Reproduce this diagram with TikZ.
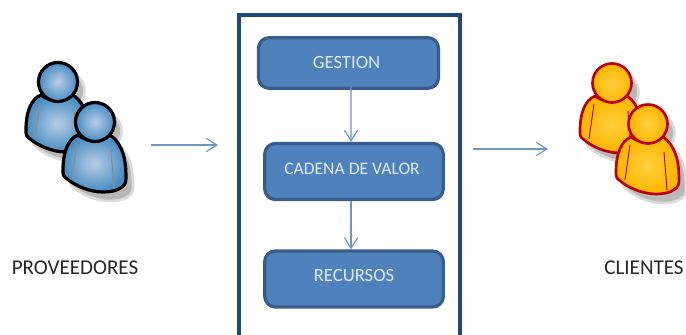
\documentclass[tikz,border=0pt]{standalone}
\usepackage{fontspec}
\setmainfont{Carlito}
\usetikzlibrary{arrows.meta}
\definecolor{marcoazul}{RGB}{31,73,125}
\definecolor{cajaazul}{RGB}{79,129,189}
\definecolor{bordeazul}{RGB}{56,93,138}
\definecolor{flechaazul}{RGB}{112,150,200}
\definecolor{textoclaro}{RGB}{222,232,244}
\definecolor{amarilloclaro}{RGB}{255,208,60}
\definecolor{amarillofuerte}{RGB}{255,182,0}
\tikzset{
  caja/.style={draw=bordeazul,fill=cajaazul,line width=2.4pt,rounded corners=8pt,inner sep=0pt},
  textocaja/.style={text=textoclaro,font=\fontsize{14}{16}\selectfont,inner sep=0pt},
  flecha/.style={draw=flechaazul,line width=0.9pt,-{Straight Barb[length=8pt,width=10pt]}},
  rotulo/.style={text=black!85,font=\fontsize{15.8}{18}\selectfont,inner sep=0pt},
  sombra/.style={fill=black!28,draw=black!14,line width=2pt},
  azul/.style={draw=black,line width=2.4pt,inner color=cajaazul!40!white,outer color=cajaazul!90!cyan,pliegue/.style={draw=black!45,line width=0.9pt}},
  amarillo/.style={draw=red!75!black,line width=2pt,inner color=amarilloclaro,outer color=amarillofuerte,pliegue/.style={draw=red!70!black,line width=0.7pt}},
}
\newcommand{\cuerpo}{(-17,13) .. controls (-27,17) and (-32,30) .. (-32,48) .. controls (-32,52) and (-32,54) .. (-29,56) .. controls (-20,64) and (-5,70) .. (8,70) .. controls (15,70) and (22,69) .. (27,65) .. controls (30,63) and (31,60) .. (31,56) .. controls (31,38) and (28,22) .. (15,13) .. controls (5,20) and (-8,20) .. (-17,13) -- cycle}
\newcommand{\persona}[3]{%
  \begin{scope}[shift={(#1,#2)}]
    \path[sombra] ([shift={(7,9)}]0,0) circle (19.5);
    \path[sombra,shift={(7,9)}] \cuerpo;
    \shadedraw[#3] \cuerpo;
    \draw[#3,pliegue] (-18,21) -- (-23,56);
    \draw[#3,pliegue] (16,28) -- (19,66);
    \shadedraw[#3] (0,0) circle (19.5);
  \end{scope}}

\begin{document}
\begin{tikzpicture}[x=0.75pt,y=0.75pt,yscale=-1]
\useasboundingbox (0,0) rectangle (686,335);

% personas
\persona{58}{82}{azul}
\persona{95}{122}{azul}
\persona{612}{83}{amarillo}
\persona{648}{124}{amarillo}

% marco
\draw[marcoazul,line width=2.3pt] (239,335) -- (239,15) -- (460,15) -- (460,335);

% cajas
\node[caja,minimum width=135pt,minimum height=38pt] (gestion) at (348.5,63) {};
\node[textocaja] (gestiontexto) at (346.5,63) {GESTION};
\node[caja,minimum width=134pt,minimum height=42pt] (cadena) at (354,171.5) {};
\node[textocaja,font=\fontsize{13.2}{16}\selectfont] (cadenatexto) at (352,168.5) {CADENA DE VALOR};
\node[caja,minimum width=134pt,minimum height=42pt] (recursos) at (354,279) {};
\node[textocaja] (recursostexto) at (354,276) {RECURSOS};

% rotulos
\node[rotulo] (proveedores) at (75,268) {PROVEEDORES};
\node[rotulo] (clientes) at (644,268) {CLIENTES};

% flechas
\coordinate (entradaA) at (151,145);
\coordinate (entradaB) at (218,145);
\coordinate (salidaA) at (473,149);
\coordinate (salidaB) at (548,149);
\draw[flecha] (entradaA) -- (entradaB);
\draw[flecha] (salidaA) -- (salidaB);
\draw[flecha] ([xshift=1.9pt,yshift=-3pt]gestion.south) -- ([xshift=-2.2pt]cadena.north);
\draw[flecha] ([xshift=-2.2pt]cadena.south) -- ([xshift=-2.2pt]recursos.north);

\end{tikzpicture}
\end{document}
